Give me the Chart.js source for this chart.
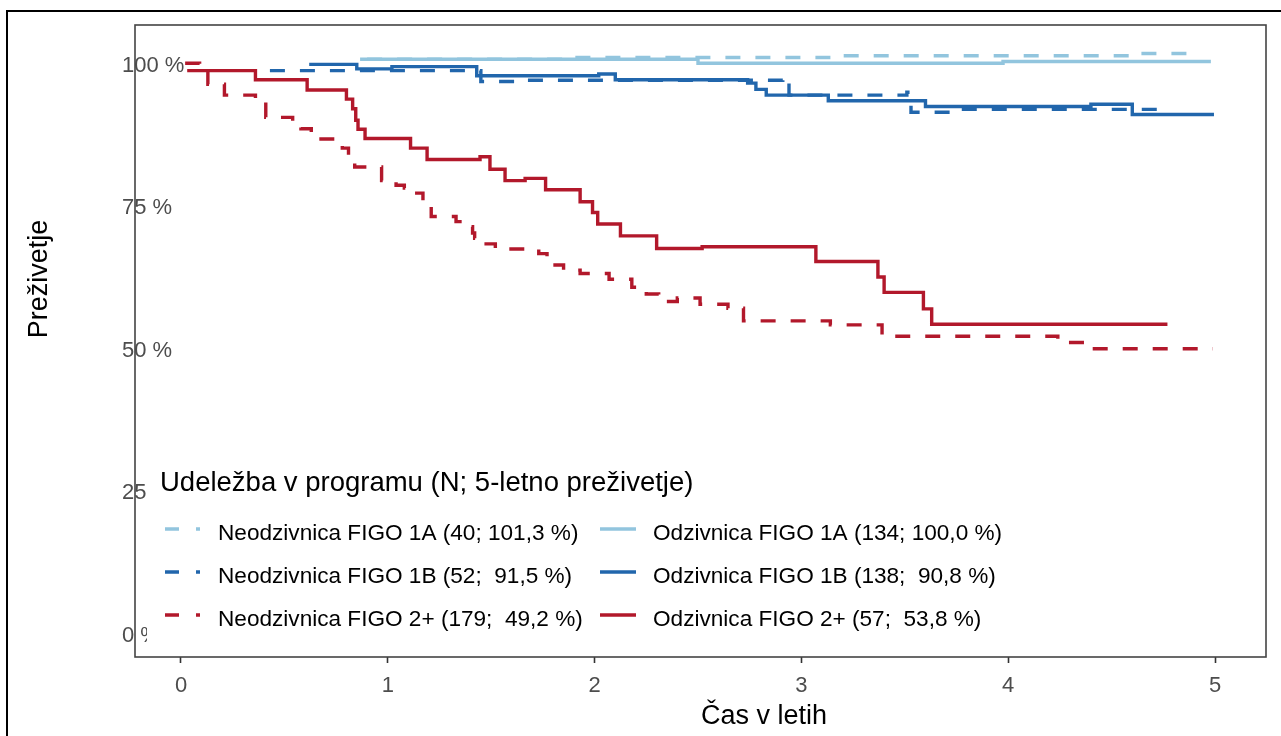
<!DOCTYPE html>
<html>
<head>
<meta charset="utf-8">
<script src="https://cdn.jsdelivr.net/npm/chart.js@4.4.0/dist/chart.umd.min.js"></script>
<style>
html,body{margin:0;padding:0;background:#fff;}
#wrap{position:relative;width:1281px;height:736px;}
</style>
</head>
<body>
<div id="wrap"><canvas id="c" width="1281" height="736"></canvas></div>
<script>
// ---------------- DATA ----------------
const xTicks = [0, 1, 2, 3, 4, 5];
const yTicks = [0, 25, 50, 75, 100];
const xTitle = 'Čas v letih';
const yTitle = 'Preživetje';
const legendTitle = 'Udeležba v programu (N; 5-letno preživetje)';

const seriesLabels = [
  'Neodzivnica FIGO 1A (40; 101,3 %)',
  'Neodzivnica FIGO 1B (52;  91,5 %)',
  'Neodzivnica FIGO 2+ (179;  49,2 %)',
  'Odzivnica FIGO 1A (134; 100,0 %)',
  'Odzivnica FIGO 1B (138;  90,8 %)',
  'Odzivnica FIGO 2+ (57;  53,8 %)'
];

// time in years, survival in %
const neo1aT = [0.90, 1.915, 3.15, 4.63, 4.93];
const neo1aS = [101.1, 101.4, 101.7, 102.1, 102.1];

const neo1bT = [0.43, 1.45, 1.64, 2.91, 2.94, 3.51, 3.53, 3.73, 4.75];
const neo1bS = [99.1, 97.2, 97.4, 97.9, 94.8, 95.3, 91.8, 92.3, 92.3];

const neo2T = [0.02, 0.09, 0.13, 0.21, 0.36, 0.41, 0.54, 0.58, 0.63, 0.655, 0.78, 0.81, 0.84, 0.97, 1.04, 1.08, 1.14, 1.17, 1.21, 1.33, 1.36, 1.41, 1.42, 1.46, 1.52, 1.73, 1.77, 1.80, 1.85, 1.93, 2.07, 2.18, 2.25, 2.31, 2.40, 2.51, 2.645, 2.72, 3.14, 3.39, 4.24, 4.37, 4.40, 4.99];
const neo2S = [100.4, 99.1, 96.7, 94.8, 93.9, 90.9, 90.1, 88.9, 88.0, 87.1, 85.5, 83.8, 82.2, 79.8, 79.0, 78.5, 77.6, 75.9, 73.5, 72.6, 71.7, 70.6, 69.7, 68.7, 67.8, 67.0, 66.2, 65.0, 64.1, 63.5, 62.5, 61.1, 59.9, 58.6, 59.2, 58.1, 57.4, 55.2, 54.5, 52.5, 51.4, 51.0, 50.3, 50.3];

const odz1aT = [0.866, 2.50, 3.975, 4.98];
const odz1aS = [101.1, 100.4, 100.7, 100.7];

const odz1bT = [0.62, 0.85, 1.02, 1.43, 2.02, 2.10, 2.74, 2.78, 2.83, 3.13, 3.60, 4.40, 4.60, 4.995];
const odz1bS = [100.2, 99.4, 99.8, 98.2, 98.5, 97.5, 96.9, 95.8, 94.8, 93.8, 92.8, 93.2, 91.4, 91.4];

const odz2T = [0.03, 0.36, 0.61, 0.80, 0.83, 0.845, 0.856, 0.89, 1.11, 1.19, 1.446, 1.494, 1.567, 1.664, 1.763, 1.93, 1.99, 2.015, 2.125, 2.30, 2.52, 3.07, 3.37, 3.40, 3.59, 3.63, 4.77];
const odz2S = [99.1, 97.5, 95.7, 94.1, 92.4, 90.4, 88.8, 87.2, 85.5, 83.5, 84.0, 81.8, 79.8, 80.2, 78.2, 76.1, 74.2, 72.2, 70.1, 67.9, 68.2, 65.6, 62.9, 60.2, 57.3, 54.6, 54.6];

const seriesT = [neo1aT, neo1bT, neo2T, odz1aT, odz1bT, odz2T];
const seriesS = [neo1aS, neo1bS, neo2S, odz1aS, odz1bS, odz2S];

// ---------------- STYLE ----------------
const FONT = '"Liberation Sans", Arial, Helvetica, sans-serif';
const colors = ['#92C5DE', '#2166AC', '#B2182B', '#92C5DE', '#2166AC', '#B2182B'];
const dashed = [true, true, true, false, false, false];
const LW = 3.4;

const datasets = seriesT.map((T, k) => ({
  label: seriesLabels[k],
  data: T.map((t, i) => ({x: t, y: seriesS[k][i]})),
  borderColor: colors[k],
  backgroundColor: colors[k],
  borderWidth: LW,
  borderDash: dashed[k] ? [15, 15] : [],
  borderCapStyle: 'butt',
  stepped: true,
  pointRadius: 0,
  pointHoverRadius: 0,
  fill: false,
  tension: 0
}));

const decor = {
  id: 'decor',
  beforeDraw(chart) {
    const ctx = chart.ctx;
    ctx.save();
    ctx.fillStyle = '#fff';
    ctx.fillRect(0, 0, chart.width, chart.height);
    // outer frame
    ctx.fillStyle = '#000';
    ctx.fillRect(6, 10, chart.width - 6, 2);
    ctx.fillRect(6, 10, 2, chart.height - 10);
    ctx.restore();
  },
  afterDraw(chart) {
    const ctx = chart.ctx;
    const a = chart.chartArea;
    ctx.save();
    // panel box
    ctx.strokeStyle = '#444';
    ctx.lineWidth = 1.6;
    ctx.strokeRect(a.left, a.top, a.right - a.left, a.bottom - a.top);

    // axis titles
    ctx.fillStyle = '#000';
    ctx.font = '27px ' + FONT;
    ctx.textAlign = 'center';
    ctx.textBaseline = 'alphabetic';
    ctx.fillText(xTitle, 764, 724);
    ctx.save();
    ctx.translate(46.5, 279);
    ctx.rotate(-Math.PI / 2);
    ctx.fillText(yTitle, 0, 0);
    ctx.restore();

    // legend
    ctx.fillStyle = '#fff';
    ctx.fillRect(147, 456, 870, 192);
    ctx.fillStyle = '#000';
    ctx.textAlign = 'left';
    ctx.font = '27.5px ' + FONT;
    ctx.fillText(legendTitle, 160, 491);
    const rowsY = [529, 572, 615];
    const cols = [{k0: 165, k1: 200, tx: 218}, {k0: 600, k1: 636, tx: 653}];
    ctx.font = '22.6px ' + FONT;
    seriesLabels.forEach((lab, k) => {
      const col = cols[dashed[k] ? 0 : 1];
      const y = rowsY[k % 3];
      ctx.beginPath();
      ctx.strokeStyle = colors[k];
      ctx.lineWidth = 3.3;
      ctx.lineCap = 'butt';
      ctx.setLineDash(dashed[k] ? [14, 17] : []);
      ctx.moveTo(col.k0, y);
      ctx.lineTo(col.k1, y);
      ctx.stroke();
      ctx.setLineDash([]);
      ctx.fillStyle = '#000';
      ctx.fillText(lab, col.tx, y + 10.5);
    });
    ctx.restore();
  }
};

new Chart(document.getElementById('c'), {
  type: 'line',
  data: {datasets},
  options: {
    responsive: false,
    animation: false,
    devicePixelRatio: 1,
    layout: {padding: {left: 135, top: 25, right: 15, bottom: 19}},
    plugins: {legend: {display: false}, tooltip: {enabled: false}, title: {display: false}},
    scales: {
      x: {
        type: 'linear',
        min: -0.2224,
        max: 5.2466,
        afterBuildTicks: s => { s.ticks = xTicks.map(v => ({value: v})); },
        afterFit: s => { s.height = 60; },
        grid: {display: true, drawOnChartArea: false, drawTicks: true, tickLength: 6, tickColor: '#333', tickWidth: 1.6},
        border: {display: false},
        ticks: {color: '#4d4d4d', font: {family: FONT, size: 22}, padding: 10, maxRotation: 0, autoSkip: false,
                callback: v => String(v)}
      },
      y: {
        type: 'linear',
        min: -3.77,
        max: 107.1,
        afterBuildTicks: s => { s.ticks = yTicks.map(v => ({value: v})); },
        afterFit: s => { s.width = 0; },
        grid: {display: false, drawTicks: false},
        border: {display: false},
        ticks: {mirror: true, padding: -13, color: '#4d4d4d', font: {family: FONT, size: 22},
                callback: v => v + ' %'}
      }
    }
  },
  plugins: [decor]
});
</script>
</body>
</html>
